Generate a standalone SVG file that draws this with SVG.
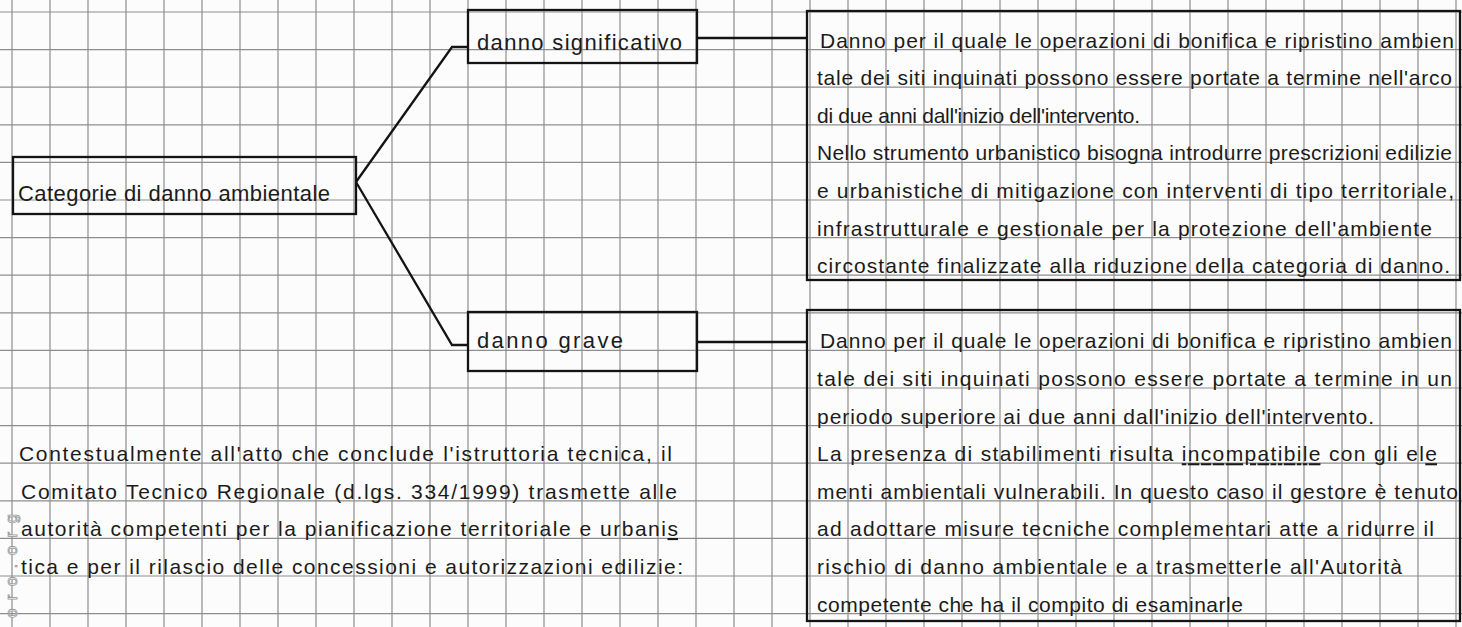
<svg xmlns="http://www.w3.org/2000/svg" width="1462" height="627" viewBox="0 0 1462 627">
  <style>
    .paper{fill:#fcfcfc}
    .grid{fill:none;stroke:#8e8e8e;stroke-width:1.2}
    .box{fill:none;stroke:#141414;stroke-width:2.3}
    .wire{fill:none;stroke:#141414;stroke-width:2.3;stroke-linejoin:miter}
    .hand{font-family:"Liberation Sans",Arial,sans-serif;font-size:21px;fill:#1b1b1b}
    .label{font-size:22px}
    .ul{text-decoration:underline}
    .mark{font-family:"Liberation Sans",Arial,sans-serif;font-size:17px;fill:#f4f4f4;stroke:#9a9a9a;stroke-width:0.8}
  </style>

  <!-- squared paper -->
  <rect class="paper" x="0" y="0" width="1462" height="627"/>
  <path class="grid" d="M12 0V627M50 0V627M88 0V627M126 0V627M164 0V627M202 0V627M240 0V627M278 0V627M316 0V627M354 0V627M392 0V627M430 0V627M468 0V627M506 0V627M544 0V627M582 0V627M620 0V627M658 0V627M696 0V627M734 0V627M772 0V627M810 0V627M848 0V627M886 0V627M924 0V627M962 0V627M1000 0V627M1038 0V627M1076 0V627M1114 0V627M1152 0V627M1190 0V627M1228 0V627M1266 0V627M1304 0V627M1342 0V627M1380 0V627M1418 0V627M1456 0V627"/>
  <path class="grid" d="M0 12H1462M0 49.6H1462M0 87.2H1462M0 124.8H1462M0 162.4H1462M0 200H1462M0 237.6H1462M0 275.2H1462M0 312.8H1462M0 350.4H1462M0 388H1462M0 425.6H1462M0 463.2H1462M0 500.8H1462M0 538.4H1462M0 576H1462M0 613.6H1462"/>

  <!-- edge mark -->
  <text class="mark" transform="translate(17,618) rotate(-90)" textLength="104">oro.org</text>

  <!-- connectors -->
  <g id="connectors">
    <polyline class="wire" points="356,182 452,47 468,47"/>
    <polyline class="wire" points="356,182 452,345 468,345"/>
    <line class="wire" x1="697" y1="38" x2="807" y2="38"/>
    <line class="wire" x1="697" y1="342" x2="807" y2="342"/>
  </g>

  <g id="categorie">
    <rect class="box" x="13" y="157" width="343" height="57"/>
    <text class="hand label" x="18" y="201" textLength="312">Categorie di danno ambientale</text>
  </g>

  <g id="danno-significativo">
    <rect class="box" x="468" y="10" width="229" height="53"/>
    <text class="hand label" x="477" y="50" textLength="205">danno significativo</text>
  </g>

  <g id="danno-grave">
    <rect class="box" x="468" y="312" width="229" height="59"/>
    <text class="hand label" x="477" y="348" textLength="146">danno  grave</text>
  </g>

  <g id="descrizione-significativo">
    <rect class="box" x="807" y="11" width="653" height="269"/>
    <text class="hand" x="820" y="47.6" textLength="634">Danno per il quale le operazioni di bonifica e ripristino ambien</text>
    <text class="hand" x="817" y="85.2" textLength="635">tale dei siti inquinati possono essere portate a termine nell'arco</text>
    <text class="hand" x="817" y="122.8" textLength="323">di due anni dall'inizio dell'intervento.</text>
    <text class="hand" x="817" y="160.4" textLength="635">Nello strumento urbanistico bisogna introdurre prescrizioni edilizie</text>
    <text class="hand" x="817" y="198" textLength="637">e urbanistiche di mitigazione con interventi di tipo territoriale,</text>
    <text class="hand" x="817" y="235.6" textLength="615">infrastrutturale e gestionale per la protezione dell'ambiente</text>
    <text class="hand" x="817" y="273.2" textLength="633">circostante finalizzate alla riduzione della categoria di danno.</text>
  </g>

  <g id="descrizione-grave">
    <rect class="box" x="807" y="310" width="653" height="311"/>
    <text class="hand" x="820" y="348.4" textLength="632">Danno per il quale le operazioni di bonifica e ripristino ambien</text>
    <text class="hand" x="817" y="386" textLength="635">tale dei siti inquinati possono essere portate a termine in un</text>
    <text class="hand" x="817" y="423.6" textLength="557">periodo superiore ai due anni dall'inizio dell'intervento.</text>
    <text class="hand" x="817" y="461.2" textLength="620">La presenza di stabilimenti risulta <tspan class="ul">incompatibile</tspan> con gli el<tspan class="ul">e</tspan></text>
    <text class="hand" x="817" y="498.8" textLength="641">menti ambientali vulnerabili. In questo caso il gestore è tenuto</text>
    <text class="hand" x="817" y="536.4" textLength="617">ad adottare misure tecniche complementari atte a ridurre il</text>
    <text class="hand" x="817" y="574" textLength="585">rischio di danno ambientale e a trasmetterle all'Autorità</text>
    <text class="hand" x="817" y="611.6" textLength="426">competente che ha il compito di esaminarle</text>
  </g>

  <g id="nota">
    <text class="hand" x="19" y="461" textLength="653">Contestualmente all'atto che conclude l'istruttoria tecnica, il</text>
    <text class="hand" x="21" y="498.5" textLength="656">Comitato Tecnico Regionale (d.lgs. 334/1999) trasmette alle</text>
    <text class="hand" x="21" y="536" textLength="657">autorità competenti per la pianificazione territoriale e urbani<tspan class="ul">s</tspan></text>
    <text class="hand" x="21" y="574" textLength="662">tica e per il rilascio delle concessioni e autorizzazioni edilizie:</text>
  </g>
</svg>
